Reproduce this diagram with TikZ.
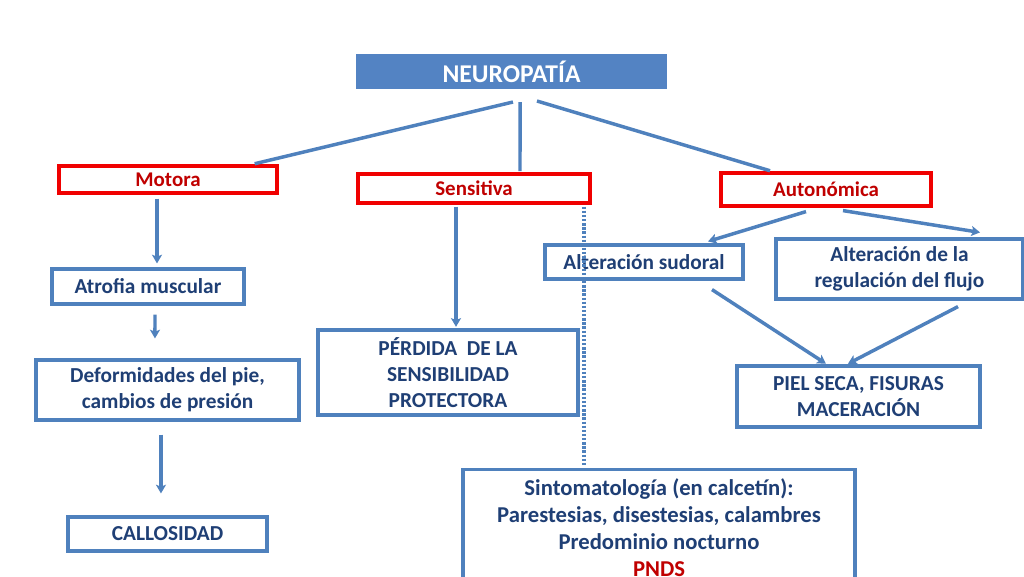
\documentclass[tikz,border=0pt]{standalone}
\usepackage{fontspec}
\setmainfont{Carlito}
\usetikzlibrary{arrows.meta,shadows}
\definecolor{lblue}{HTML}{4F81BD}
\definecolor{nblue}{HTML}{1F3F75}
\definecolor{dred}{HTML}{C00000}
\definecolor{bred}{HTML}{F00000}
\definecolor{hfill}{HTML}{5383C3}
\tikzset{
  bluebox/.style={draw=lblue, line width=2.4pt, fill=white, align=center, text=nblue,
    font=\fontsize{16}{19.5}\selectfont\bfseries, inner sep=0pt},
  redbox/.style={draw=bred, line width=2.4pt, fill=white, align=center, text=dred,
    font=\fontsize{15.7}{18}\selectfont\bfseries, inner sep=0pt},
  headbox/.style={draw=white, line width=1.5pt, fill=hfill, text=white,
    font=\fontsize{19.2}{22}\selectfont\bfseries, inner sep=0pt,
    drop shadow={shadow xshift=0.8pt, shadow yshift=-0.8pt, fill=black!35, opacity=0.6}},
  conn/.style={draw=lblue, line width=2.6pt},
  arr/.style={conn, -{Stealth[length=6.5pt,width=7.5pt,inset=1.5pt]}},
  dotline/.style={draw=lblue, line width=2.4pt, dash pattern=on 1.8pt off 1.3pt}
}
\begin{document}
\begin{tikzpicture}[x=0.75pt,y=-0.75pt]
\useasboundingbox (0,0) rectangle (1024,576);
\clip (0,0) rectangle (1024,576);
\fill[white] (0,0) rectangle (1024,576);

\node[headbox, minimum width=234.75pt, minimum height=27.75pt] (neuro) at (511.5,71.5) {NEUROPATÍA};

\node[redbox, minimum width=163.5pt, minimum height=20.25pt] (motora) at (168,179.5) {Motora};
\node[redbox, minimum width=174pt, minimum height=21.75pt] (sens) at (474,188.5) {Sensitiva};
\node[redbox, minimum width=157.5pt, minimum height=24.75pt] (auton) at (826,189.5) {Autonómica};

\node[bluebox, minimum width=144pt, minimum height=26.25pt] (atrofia) at (148,286.5) {Atrofia muscular};
\node[bluebox, minimum width=197.25pt, minimum height=45pt] (deform) at (167.5,390) {Deformidades del pie,\\cambios de presión};
\node[bluebox, minimum width=149.25pt, minimum height=25.5pt] (callo) at (167.5,534) {CALLOSIDAD};
\node[bluebox, minimum width=195pt, minimum height=63.75pt] (perdida) at (448,372.5) {PÉRDIDA\ \ DE LA\\SENSIBILIDAD\\PROTECTORA};
\node[bluebox, minimum width=148.5pt, minimum height=25.5pt] (sudoral) at (644,262) {Alteración sudoral};
\node[bluebox, minimum width=185.25pt, minimum height=45pt] (flujo) at (899.5,269) {Alteración de la\\regulación del flujo};
\node[bluebox, minimum width=182.25pt, minimum height=45.75pt] (piel) at (858.5,396.5) {PIEL SECA, FISURAS\\MACERACIÓN};
\node[bluebox, anchor=north, minimum width=294pt, inner ysep=6.5pt,
  font=\fontsize{17}{20.3}\selectfont\bfseries] (sinto) at (659,468)
  {Sintomatología (en calcetín):\\Parestesias, disestesias, calambres\\Predominio nocturno\\\textcolor{dred}{PNDS}\\[30pt]};

% connectors from NEUROPATIA
\draw[conn] ([xshift=1.1pt,yshift=-8.25pt]neuro.south) -- ([xshift=65pt,yshift=0.5pt]motora.north);
\draw[conn] ([xshift=6.4pt,yshift=-8.25pt]neuro.south) -- ([xshift=34.5pt,yshift=1pt]sens.north);
\draw[conn] ([xshift=19.1pt,yshift=-7.5pt]neuro.south) -- ([xshift=-42pt,yshift=0.5pt]auton.north);

% motora branch
\draw[arr] ([xshift=-8.25pt,yshift=-3pt]motora.south) -- ([xshift=6.75pt,yshift=3pt]atrofia.north);
\draw[arr] ([xshift=5.25pt,yshift=-6.75pt]atrofia.south) -- ([xshift=-9.4pt,yshift=15pt]deform.north);
\draw[arr] ([xshift=-4.9pt,yshift=-9.75pt]deform.south) -- ([xshift=-4.9pt,yshift=16.5pt]callo.north);

% sensitiva branch
\draw[arr] ([xshift=-13.5pt,yshift=-1.5pt]sens.south) -- ([xshift=6pt,yshift=1.2pt]perdida.north);
\draw[dotline] ([xshift=82.5pt,yshift=-1.5pt]sens.south) -- ([xshift=-56.25pt,yshift=1.5pt]sinto.north);

% autonomica branch
\draw[arr] ([xshift=-15pt,yshift=-3pt]auton.south) -- ([xshift=48pt,yshift=1.5pt]sudoral.north);
\draw[arr] ([xshift=12.75pt,yshift=-2.25pt]auton.south) -- ([xshift=60.4pt,yshift=3.75pt]flujo.north);
\draw[arr] ([xshift=51pt,yshift=-6.75pt]sudoral.south) -- ([xshift=-24.4pt,yshift=0.5pt]piel.north);
\draw[arr] ([xshift=43.9pt,yshift=-4.5pt]flujo.south) -- ([xshift=-7.9pt,yshift=0.5pt]piel.north);
\end{tikzpicture}
\end{document}
